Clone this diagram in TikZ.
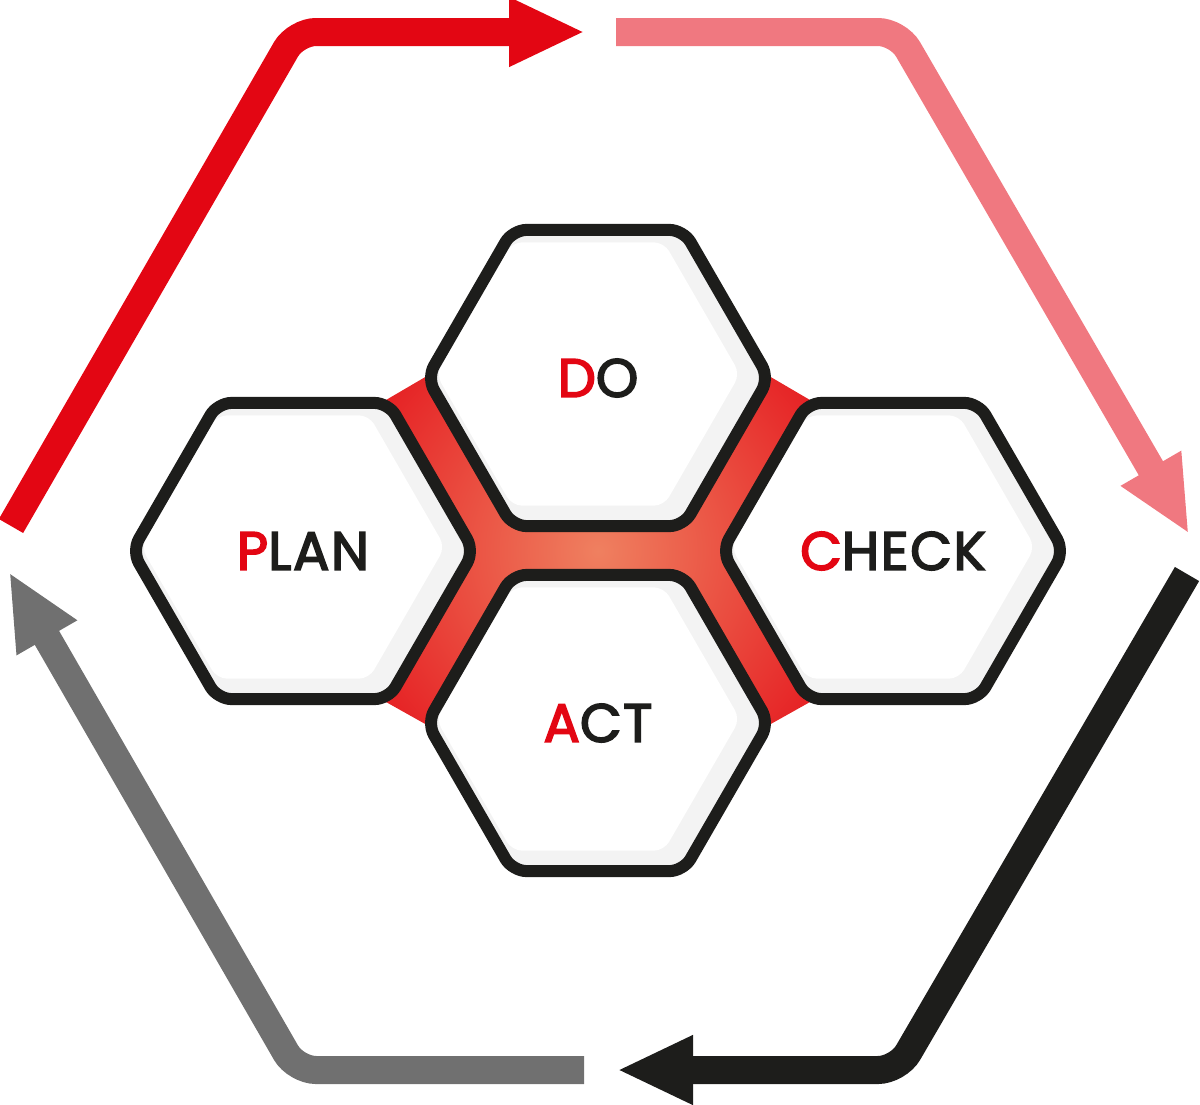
\documentclass[tikz,border=0pt]{standalone}
\usepackage{xcolor}
\usepackage{fontspec}
\setmainfont{Poppins}
\newfontfamily\pdcafont{Poppins}[FakeBold=3, LetterSpace=3]
\usepackage{tikz}
\usetikzlibrary{arrows.meta,shapes.geometric}

\definecolor{pdcared}{RGB}{227,6,19}
\definecolor{pdcapink}{RGB}{240,120,128}
\definecolor{pdcablack}{RGB}{29,29,27}
\definecolor{pdcagray}{RGB}{112,112,112}
\definecolor{pdcaorange}{RGB}{239,128,96}
\definecolor{hexshade}{RGB}{243,243,243}

\begin{document}
\begin{tikzpicture}[
  x=0.5pt, y=-0.5pt,
  hexa/.style={regular polygon, regular polygon sides=6, minimum size=171pt, inner sep=0pt,
    draw=pdcablack, line width=6pt, fill=hexshade, rounded corners=7pt,
    text=pdcablack, font=\pdcafont\fontsize{27}{30}\selectfont,
    path picture={\fill[white, rounded corners=5pt] ([shift={(-5pt,2pt)}]path picture bounding box.center)
      +(0:76pt) -- +(60:76pt) -- +(120:76pt) -- +(180:76pt) -- +(240:76pt) -- +(300:76pt) -- cycle;}},
  cyclearrow/.style={line width=14pt, rounded corners=10pt, -{Triangle[length=38pt, width=32pt]}}
]
  \useasboundingbox (0,0) rectangle (1200,1104);

  % corners of the outer cycle
  \coordinate (tl) at (296,32);
  \coordinate (tr) at (898,32);
  \coordinate (br) at (898,1070);
  \coordinate (bl) at (296,1070);
  \coordinate (planout) at (11,526);
  \coordinate (doin) at (585,32);
  \coordinate (doout) at (616,32);
  \coordinate (checkin) at (1189,534);
  \coordinate (checkout) at (1187,574);
  \coordinate (actin) at (617,1070);
  \coordinate (actout) at (584,1070);
  \coordinate (planin) at (9,572);

  % red core between the cells
  \begin{scope}
    \clip (386,400) -- (427,376) -- (769,376) -- (810,400) -- (810,702) -- (769,725)
      -- (427,725) -- (386,702) -- cycle;
    \shade[inner color=pdcaorange, outer color=pdcared] (598,551) circle (340);
  \end{scope}

  \node[hexa] (plan) at (303,551) {\textcolor{pdcared}{P}LAN};
  \node[hexa] (do) at (598,378) {\textcolor{pdcared}{D}O};
  \node[hexa] (check) at (893,551) {\textcolor{pdcared}{C}HECK};
  \node[hexa] (act) at (598,723) {\textcolor{pdcared}{A}CT};

  \draw[cyclearrow, pdcared] (planout) -- (tl) -- (doin);
  \draw[cyclearrow, pdcapink] (doout) -- (tr) -- (checkin);
  \draw[cyclearrow, pdcablack] (checkout) -- (br) -- (actin);
  \draw[cyclearrow, pdcagray] (actout) -- (bl) -- (planin);
\end{tikzpicture}
\end{document}
